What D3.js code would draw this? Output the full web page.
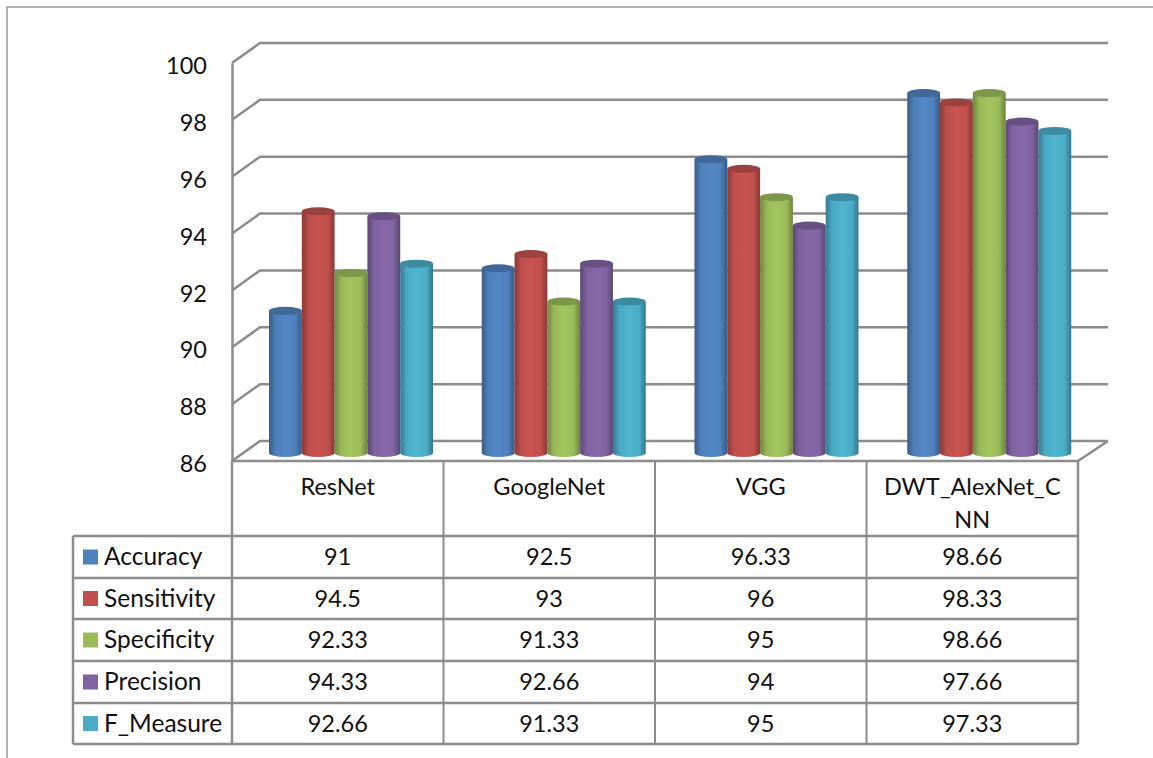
<!DOCTYPE html>
<html>
<head>
<meta charset="utf-8">
<script src="https://cdn.jsdelivr.net/npm/d3@7/dist/d3.min.js"></script>
<style>
  html, body { margin: 0; padding: 0; background: #fff; }
  svg { display: block; }
  text { font-family: Lato, "Open Sans", sans-serif; fill: #111; }
</style>
</head>
<body>
<div id="chart"></div>
<script>
const categories = ["ResNet", "GoogleNet", "VGG", "DWT_AlexNet_CNN"];
const seriesNames = ["Accuracy", "Sensitivity", "Specificity", "Precision", "F_Measure"];
const accuracy = [91, 92.5, 96.33, 98.66];
const sensitivity = [94.5, 93, 96, 98.33];
const specificity = [92.33, 91.33, 95, 98.66];
const precision = [94.33, 92.66, 94, 97.66];
const fMeasure = [92.66, 91.33, 95, 97.33];
const yTicks = [86, 88, 90, 92, 94, 96, 98, 100];
const colors = ["#4f81bd", "#c0504d", "#9bbb59", "#8064a2", "#4bacc6"];

const seriesValues = [accuracy, sensitivity, specificity, precision, fMeasure];

const svg = d3.select("#chart").append("svg")
  .attr("width", 1153)
  .attr("height", 758);

const gridColor = "#8c8c8c";
const plot = { left: 232, right: 1078, top: 63, bottom: 461 };
const depth = { x: 28, y: 20 };
const rowEdges = [461, 536, 578, 619, 661, 703, 744];
const legendLeft = 73;

// scales
const y = d3.scaleLinear().domain([86, 100]).range([plot.bottom, plot.top]);
const x0 = d3.scaleBand().domain(categories).range([plot.left, plot.right]);
// bars sit on the 3d floor so their groups spread a bit wider than the table columns
const xBars = d3.scaleBand().domain(categories).range([plot.left, plot.left + 851]);
const x1 = d3.scaleBand().domain(seriesNames)
  .range([37, 201]);

// page frame
svg.append("path")
  .attr("d", "M7,758V7H1153")
  .attr("fill", "none")
  .attr("stroke", "#9a9a9a")
  .attr("stroke-width", 1.5);

// gradients for the cylinders
const defs = svg.append("defs");
colors.forEach((c, i) => {
  const grad = defs.append("linearGradient").attr("id", "cyl" + i);
  const stops = [
    [0, d3.color(c).darker(0.95)],
    [0.2, d3.color(c).darker(0.05)],
    [0.5, d3.color(c).brighter(0.14)],
    [0.8, d3.color(c)],
    [1, d3.color(c).darker(1)]
  ];
  stops.forEach(s => grad.append("stop")
    .attr("offset", s[0])
    .attr("stop-color", s[1]));
});

// back wall gridlines
const grid = svg.append("g")
  .attr("fill", "none")
  .attr("stroke", gridColor)
  .attr("stroke-width", 2.5);

grid.selectAll("path")
  .data(yTicks)
  .join("path")
  .attr("d", d => d3.line()([
    [plot.left, y(d)],
    [plot.left + depth.x, y(d) - depth.y],
    [plot.right + depth.x + 2, y(d) - depth.y]
  ]));

// floor, right side
grid.append("path")
  .attr("d", d3.line()([
    [plot.left, y(86)],
    [plot.right, y(86)],
    [plot.right + depth.x + 2, y(86) - depth.y]
  ]));

// y axis
const yAxis = svg.append("g")
  .attr("transform", `translate(${plot.left},0)`)
  .call(d3.axisLeft(y).tickValues(yTicks).tickSize(0).tickPadding(25));
yAxis.select(".domain")
  .attr("stroke", gridColor)
  .attr("stroke-width", 2.5);
yAxis.selectAll("text")
  .attr("font-size", 23.5)
  .attr("dy", "0.45em");

// cylinders
const ry = 4;
const topShift = 8;
const baseShift = 4;
const barRows = categories.flatMap((cat, c) =>
  seriesNames.map((name, s) => ({
    cat, name, s, value: seriesValues[s][c]
  })));

const bars = svg.append("g").selectAll("g")
  .data(barRows)
  .join("g")
  .attr("transform", d => `translate(${xBars(d.cat) + x1(d.name)},0)`);

bars.append("path")
  .attr("fill", d => `url(#cyl${d.s})`)
  .attr("d", d => {
    const w = x1.bandwidth();
    const top = y(d.value) - topShift;
    const base = y(86) - baseShift - ry;
    return `M0,${top}V${base}A${w / 2},${ry} 0 0 0 ${w},${base}V${top}Z`;
  });

bars.append("ellipse")
  .attr("cx", x1.bandwidth() / 2)
  .attr("cy", d => y(d.value) - topShift)
  .attr("rx", x1.bandwidth() / 2)
  .attr("ry", ry)
  .attr("fill", d => d3.color(colors[d.s]).darker(0.6));

// data table
const table = svg.append("g");
const rowScale = i => rowEdges[i];

const lines = table.append("g")
  .attr("stroke", gridColor)
  .attr("stroke-width", 2.5)
  .attr("fill", "none");

lines.append("path").attr("d", `M${plot.left},${rowEdges[0]}V${rowEdges[6]}`);
categories.forEach(cat => {
  const xr = x0(cat) + x0.bandwidth();
  lines.append("path")
    .attr("stroke-width", cat === categories[3] ? 2.5 : 2)
    .attr("d", `M${xr},${rowEdges[0]}V${rowEdges[6]}`);
});
lines.append("path").attr("d", `M${legendLeft},${rowEdges[1]}V${rowEdges[6]}`);
rowEdges.slice(1).forEach(r => {
  lines.append("path").attr("d", `M${legendLeft},${r}H${plot.right}`);
});

// header row
const header = table.append("g")
  .attr("font-size", 23.5)
  .attr("text-anchor", "middle");

categories.forEach(cat => {
  const cx = x0(cat) + x0.bandwidth() / 2;
  if (cat === "DWT_AlexNet_CNN") {
    header.append("text").attr("x", cx).attr("y", 495).text("DWT_AlexNet_C");
    header.append("text").attr("x", cx).attr("y", 528).text("NN");
  } else {
    header.append("text").attr("x", cx).attr("y", 495).text(cat);
  }
});

// legend keys and values
seriesNames.forEach((name, s) => {
  const top = rowScale(s + 1);
  const mid = (top + rowScale(s + 2)) / 2;
  table.append("rect")
    .attr("x", 83)
    .attr("y", mid - 7.5)
    .attr("width", 15)
    .attr("height", 15)
    .attr("fill", colors[s]);
  table.append("text")
    .attr("x", 104)
    .attr("y", mid + 8)
    .attr("font-size", 24.5)
    .text(name);
  categories.forEach((cat, c) => {
    table.append("text")
      .attr("x", x0(cat) + x0.bandwidth() / 2)
      .attr("y", mid + 8)
      .attr("font-size", 23.5)
      .attr("text-anchor", "middle")
      .text(seriesValues[s][c]);
  });
});
</script>
</body>
</html>
